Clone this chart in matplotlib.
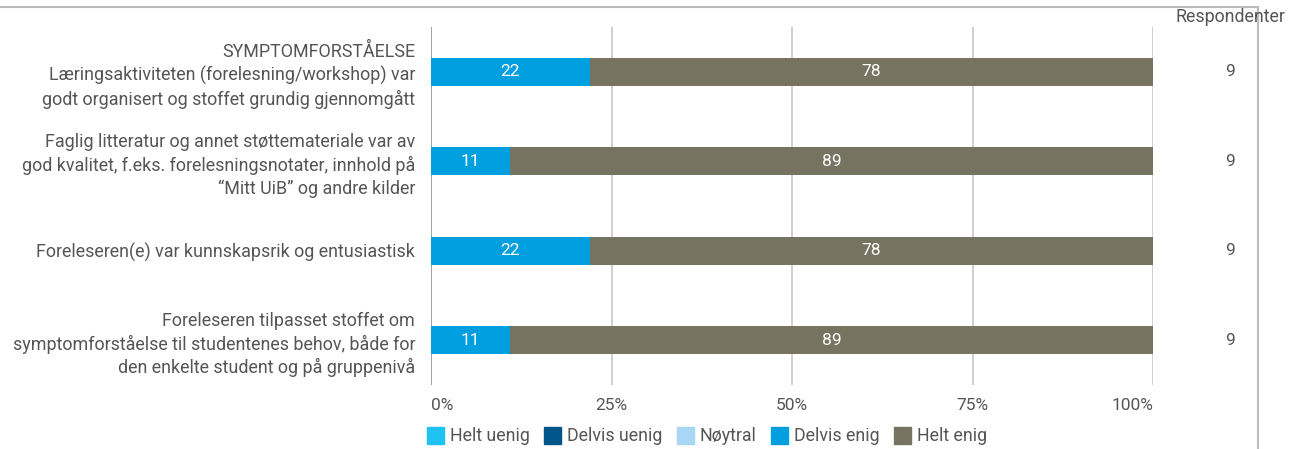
import matplotlib
matplotlib.use("Agg")
import matplotlib.pyplot as plt
from matplotlib.patches import Patch
from matplotlib.lines import Line2D

plt.rcParams['font.family'] = ['Roboto', 'DejaVu Sans']

categories = [
    "SYMPTOMFORSTÅELSE\nLæringsaktiviteten (forelesning/workshop) var\ngodt organisert og stoffet grundig gjennomgått",
    "Faglig litteratur og annet støttemateriale var av\ngod kvalitet, f.eks. forelesningsnotater, innhold på\n“Mitt UiB” og andre kilder",
    "Foreleseren(e) var kunnskapsrik og entusiastisk",
    "Foreleseren tilpasset stoffet om\nsymptomforståelse til studentenes behov, både for\nden enkelte student og på gruppenivå",
]
series_names = ["Helt uenig", "Delvis uenig", "Nøytral", "Delvis enig", "Helt enig"]
helt_uenig = [0, 0, 0, 0]
delvis_uenig = [0, 0, 0, 0]
noytral = [0, 0, 0, 0]
delvis_enig = [22, 11, 22, 11]
helt_enig = [78, 89, 78, 89]
respondents = [9, 9, 9, 9]
xtick_values = [0, 25, 50, 75, 100]
xtick_labels = ["0%", "25%", "50%", "75%", "100%"]

colors = ["#1fc3f3", "#00568a", "#a9d6f5", "#009fe0", "#767460"]
text_gray = "#555555"

W, H = 1303, 449
fig = plt.figure(figsize=(W / 100, H / 100), dpi=100)
ax = fig.add_axes([431 / W, (H - 385) / H, (1153 - 431) / W, (385 - 27) / H])

values = [helt_uenig, delvis_uenig, noytral, delvis_enig, helt_enig]
ypos = list(range(len(categories)))
left = [0] * len(categories)
for name, vals, c in zip(series_names, values, colors):
    ax.barh(ypos, vals, left=left, height=0.31, color=c, zorder=3, label=name)
    for i, v in enumerate(vals):
        if v > 0:
            ax.text(left[i] + v / 2, ypos[i], f"{v}", ha="center", va="center",
                    color="white", fontsize=12.5, zorder=4)
    left = [l + v for l, v in zip(left, vals)]

ax.set_xlim(0, 100)
ax.set_ylim(len(categories) - 0.5, -0.5)
ax.set_yticks(ypos)
ax.set_yticklabels(categories, fontsize=12.9, color=text_gray, linespacing=1.3)
ax.set_xticks(xtick_values)
ax.set_xticklabels(xtick_labels, fontsize=12.5, color=text_gray)
xt = ax.get_xticklabels()
xt[0].set_ha("left")
xt[-1].set_ha("right")
ax.tick_params(axis="both", length=0)
ax.tick_params(axis="y", pad=11.5)
ax.tick_params(axis="x", pad=9)
for s in ax.spines.values():
    s.set_visible(False)
for xv in xtick_values:
    ax.axvline(xv, color="#999999" if xv == 0 else "#cccccc", lw=1.3, zorder=1)

# respondents column
for i, r in enumerate(respondents):
    yfig = fig.transFigure.inverted().transform(ax.transData.transform((0, ypos[i])))[1]
    fig.text(1230 / W, yfig, str(r), ha="center", va="center", fontsize=12.5, color=text_gray)
fig.text(1230 / W, (H - 17) / H, "Respondenter", ha="center", va="center", fontsize=12.8, color=text_gray)

# frame lines
fig.add_artist(Line2D([0, 1258 / W], [(H - 7) / H] * 2, color="#bbbbbb", lw=1.5, transform=fig.transFigure))
fig.add_artist(Line2D([1258 / W] * 2, [0, (H - 7) / H], color="#bbbbbb", lw=1.5, transform=fig.transFigure))

handles = [Patch(facecolor=c, edgecolor=c, label=n) for n, c in zip(series_names, colors)]
fig.legend(handles=handles, loc="center", bbox_to_anchor=(707 / W, (H - 436) / H), ncol=5,
           frameon=False, fontsize=12.8, labelcolor=text_gray, handlelength=0.95, handleheight=1.15,
           handletextpad=0.35, columnspacing=0.8)

fig.savefig("out.png", dpi=100)
